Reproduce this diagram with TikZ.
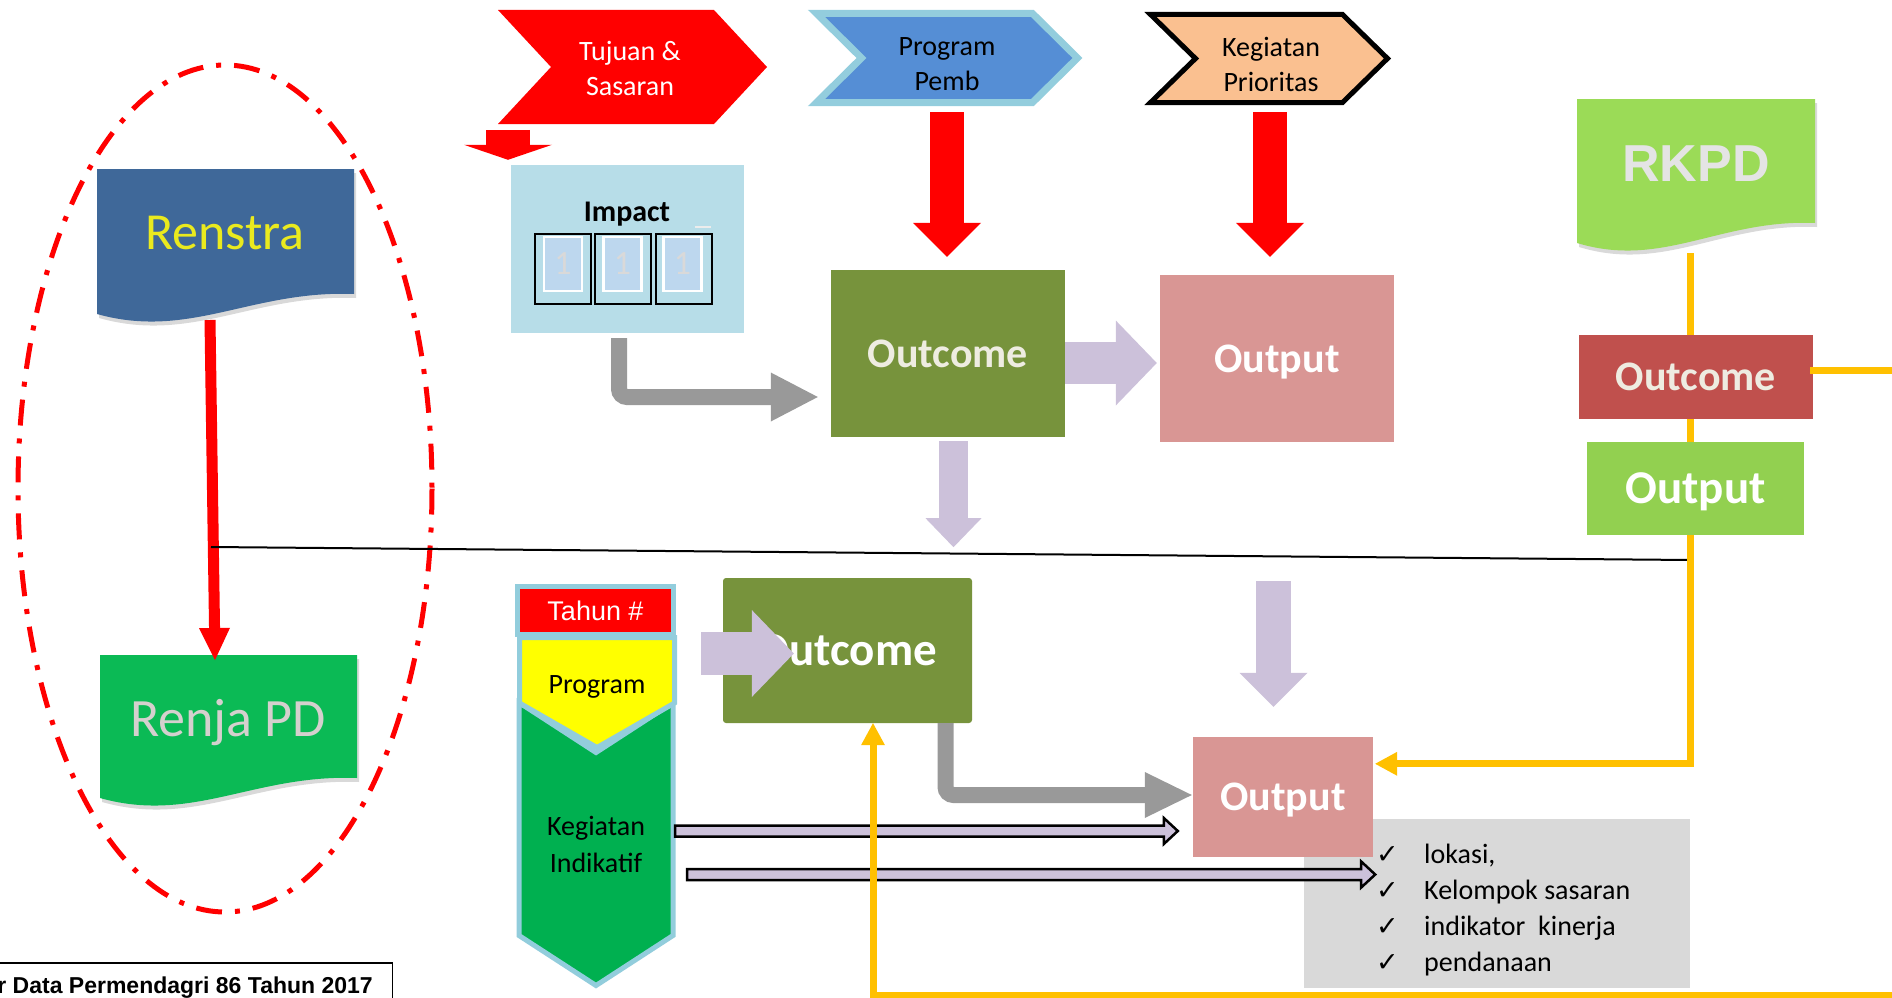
\documentclass[tikz,border=0pt]{standalone}
\usepackage{fontspec}
\setmainfont{Carlito}
\newfontfamily\arialfont{Liberation Sans}
\newfontfamily\symfont{DejaVu Sans}
\usetikzlibrary{arrows.meta}
\usetikzlibrary{calc}
\usetikzlibrary{shadows}

\definecolor{tujred}{HTML}{FF0000}
\definecolor{progblue}{HTML}{558ED5}
\definecolor{progrim}{HTML}{93CDDD}
\definecolor{stackrim}{HTML}{92CDDC}
\definecolor{kegpeach}{HTML}{FAC090}
\definecolor{impactbg}{HTML}{B7DDE8}
\definecolor{slotblue}{HTML}{BDD7EE}
\definecolor{outcgreen}{HTML}{77933C}
\definecolor{outpink}{HTML}{D99694}
\definecolor{outcred}{HTML}{C0504D}
\definecolor{outgreen}{HTML}{92D050}
\definecolor{lilac}{HTML}{CCC1DA}
\definecolor{arrowgrey}{HTML}{999999}
\definecolor{linkyellow}{HTML}{FFC000}
\definecolor{listgrey}{HTML}{D9D9D9}
\definecolor{kegigreen}{HTML}{00B050}
\definecolor{progyellow}{HTML}{FFFF00}
\definecolor{renstrablue}{HTML}{3F6899}
\definecolor{renjagreen}{HTML}{0BBA55}
\definecolor{rkpdgreen}{HTML}{9BDB57}
\definecolor{boxcream}{HTML}{EEECE1}
\definecolor{renstratext}{HTML}{EAEA1E}
\definecolor{renjatext}{HTML}{D5D0CE}
\definecolor{rkpdtext}{HTML}{E4E4E4}

\newcommand\docshape[5]{%
  \fill[#1,docshadow] (#2,#3) -- (#4,#3) -- (#4,#5)
    .. controls ({#4-0.4*(#4-#2)},{#5-4}) and ({#4-0.64*(#4-#2)},{#5+46}) .. (#2,{#5+20}) -- cycle;}
\newcommand\chev[5]{%
  \path[#2] ($#1+(-#3,-#4)$) -- ($#1+(#3-#5,-#4)$) -- ($#1+(#3,0)$)
    -- ($#1+(#3-#5,#4)$) -- ($#1+(-#3,#4)$) -- ($#1+(-#3+#5,0)$) -- cycle;}
\newcommand\vchev[6]{%
  \path[#2] ($#1+(-#3,-#4)$) -- ($#1+(0,-#4+#5)$) -- ($#1+(#3,-#4)$)
    -- ($#1+(#3,#4-#6)$) -- ($#1+(0,#4)$) -- ($#1+(-#3,#4-#6)$) -- cycle;}
\newcommand\hollowarrow[2]{%
  \path[hollow] ($(#1)+(0,-5.5)$) -- ($(#2)+(-14,-5.5)$) -- ($(#2)+(-14,-13)$) -- (#2)
    -- ($(#2)+(-14,13)$) -- ($(#2)+(-14,5.5)$) -- ($(#1)+(0,5.5)$) -- cycle;}
\newcommand\tick{\makebox[48pt][l]{\symfont\fontsize{27}{27}\selectfont ✓}}

\begin{document}
\begin{tikzpicture}[x=1pt,y=-1pt]
  \tikzset{
    every node/.style={inner sep=0pt},
    lbl/.style={text depth=0pt},
    box/.style 2 args={minimum width=#1, minimum height=#2, text depth=0pt,
      font=\bfseries\fontsize{42}{50}\selectfont, text=white},
    chevtext/.style={align=center, font=\fontsize{28}{35}\selectfont},
    slot/.style={draw=black, line width=2pt, minimum width=56, minimum height=70},
    slotin/.style={fill=slotblue, draw=white, line width=2.5pt, minimum width=38,
      minimum height=54, text=listgrey, font=\fontsize{34}{34}\selectfont},
    blockarrow/.style n args={3}{line width=#1, -{Triangle[length=#2,width=#3,line width=0pt]}},
    yline/.style={draw=linkyellow, line width=7pt, -{Triangle[length=22pt,width=24pt,line width=0pt]}},
    hollow/.style={fill=lilac, draw=black, line width=2.5pt},
    docshadow/.style={drop shadow={shadow xshift=2pt,shadow yshift=-4pt,opacity=0.3}},
  }
  \useasboundingbox (0,0) rectangle (1892,998);

  \draw[tujred, line width=5pt, dash pattern=on 26pt off 13pt on 5pt off 13pt]
    (225,488.5) ellipse [x radius=207, y radius=423.5];

  \docshape{renstrablue}{97}{169}{354}{294}
  \node[lbl, font=\fontsize{52}{60}\selectfont, text=renstratext] (renstra) at (225,233) {Renstra};
  \docshape{renjagreen}{100}{655}{357}{778}
  \node[lbl, font=\fontsize{54}{60}\selectfont, text=renjatext] (renja) at (228,718) {Renja PD};
  \docshape{rkpdgreen}{1577}{99}{1815}{223}
  \node[lbl, font=\arialfont\bfseries\fontsize{52}{60}\selectfont, text=rkpdtext] (rkpd) at (1696,164) {RKPD};

  \draw[tujred, blockarrow={11pt}{32pt}{31pt}] ($(renstra)+(-15,87)$) -- ($(renja)+(-13,-58)$);

  \coordinate (splitL) at (211,547);
  \coordinate (splitR) at (1690,560);
  \draw[line width=2pt] (splitL) -- (splitR);

  \chev{(632.5,67)}{fill=tujred}{134.5}{57}{53}
  \node[chevtext, text=white] (tujuan) at (630,68) {Tujuan \&\\Sasaran};
  \chev{(947,58)}{fill=progblue, draw=progrim, line width=7pt}{130.5}{44.5}{45}
  \node[chevtext] (program) at (947,64) {Program\\Pemb};
  \chev{(1269,58.5)}{fill=kegpeach, draw=black, line width=5pt}{118.5}{44}{45}
  \node[chevtext] (kegiatan) at (1271,64) {Kegiatan\\Prioritas};

  \node[fill=impactbg, minimum width=233, minimum height=168] (impact) at (627.5,249) {};
  \node[lbl, font=\bfseries\fontsize{30}{36}\selectfont] (impacttitle) at (627,212) {Impact};
  \draw[white!85!gray, line width=2pt] (695,227) -- (711,227);
  \node[slot] (slot1) at (563,269) {};
  \node[slot] (slot2) at (623,269) {};
  \node[slot] (slot3) at (683.5,269) {};
  \node[slotin] (num1) at (563,264) {1};
  \node[slotin] (num2) at (622.5,264) {1};
  \node[slotin] (num3) at (682.5,264) {1};

  \draw[tujred, blockarrow={44pt}{15pt}{88pt}] ($(impact.north)+(-119.5,-35)$) -- ($(impact.north)+(-119.5,-5)$);

  \node[box={234}{167}, fill=outcgreen, text=boxcream] (outcA) at (948,353.5) {Outcome};
  \node[box={234}{167}, fill=outpink] (outA) at (1277,358.5) {Output};

  \draw[tujred, blockarrow={34pt}{34pt}{68pt}] ($(program)+(0,48)$) -- ($(outcA.north)+(-1,-13)$);
  \draw[tujred, blockarrow={34pt}{34pt}{68pt}] ($(kegiatan)+(-1,48)$) -- ($(outA.north)+(-7,-18)$);

  \draw[arrowgrey, rounded corners=8pt, blockarrow={16pt}{47pt}{49pt}]
    ($(impact.south)+(-8.5,5)$) |- ($(outcA.west)+(-13,43.5)$);
  \draw[lilac, blockarrow={42pt}{41pt}{85pt}] ($(outcA.east)+(0,9.5)$) -- ($(outA.west)+(-3,4.5)$);
  \coordinate (dropA) at ($(outcA.south)+(5.5,4)$);
  \coordinate (dropAend) at ($(outcA.south)+(5.5,110)$);
  \draw[lilac, blockarrow={29pt}{29pt}{56pt}] (dropA) -- (dropAend);

  \vchev{(596,844)}{fill=kegigreen, draw=stackrim, line width=5pt}{77}{141.5}{50}{50}
  \node[chevtext, font=\fontsize{28}{37}\selectfont] (kegind) at (596,844) {Kegiatan\\Indikatif};
  \vchev{(597,692.5)}{fill=progyellow, draw=stackrim, line width=5pt}{77.5}{55}{0}{44.5}
  \node[lbl, font=\fontsize{28}{34}\selectfont] (progY) at (597,685) {Program};
  \node[lbl, fill=tujred, draw=stackrim, line width=5pt, minimum width=156, minimum height=48,
    text=white, font=\arialfont\fontsize{27}{30}\selectfont] (tahun) at (595.5,610.5) {Tahun \#};

  \node[box={249}{145}, fill=outcgreen, rounded corners=3pt,
    font=\bfseries\fontsize{47}{52}\selectfont] (outcB) at (847.5,650.5) {Outcome};
  \coordinate (feedIn) at (701,653.5);
  \draw[lilac, blockarrow={43pt}{42pt}{87pt}] (feedIn) -- ($(outcB.west)+(71,3)$);

  \node[fill=listgrey, minimum width=386, minimum height=169] (listbox) at (1497,903.5) {};
  \node[box={180}{120}, fill=outpink] (outB) at (1283,797) {Output};
  \node[anchor=west, align=left, font=\fontsize{28}{36}\selectfont] (checks) at (1376,910)
    {\tick lokasi,\\ \tick Kelompok sasaran\\ \tick indikator\ \ kinerja\\ \tick pendanaan};

  \draw[arrowgrey, rounded corners=8pt, blockarrow={16pt}{47pt}{46pt}]
    ($(outcB.south)+(98,0)$) |- ($(outB.west)+(-1,-2)$);
  \coordinate (dropB) at (1273.5,581);
  \draw[lilac, blockarrow={35pt}{34pt}{68pt}] (dropB) -- ($(outB.north)+(-9.5,-30)$);

  \coordinate (hollow1s) at ($(kegind)+(79,-13)$);
  \coordinate (hollow1e) at ($(outB.west)+(-15,34)$);
  \hollowarrow{hollow1s}{hollow1e}
  \coordinate (hollow2s) at ($(kegind)+(91,30.5)$);
  \coordinate (hollow2e) at ($(outB.east)+(2,77.5)$);
  \hollowarrow{hollow2s}{hollow2e}

  \draw[yline] ($(rkpd)+(-6,89)$) |- ($(outB.north east)+(2,27)$);
  \node[box={234}{84}, fill=outcred, text=boxcream] (outR) at (1696,377) {Outcome};
  \node[box={217}{93}, fill=outgreen, font=\bfseries\fontsize{47}{52}\selectfont] (outG) at (1695.5,488.5) {Output};
  \coordinate (loopC) at (1915,995.5);
  \draw[yline] ($(outR.east)+(-3,-7)$) -| (loopC) -| ($(outcB.south)+(25.5,0)$);

  \node[draw=black, line width=1.5pt, minimum width=400, minimum height=45, anchor=north east] (capbox) at (393,962) {};
  \node[anchor=base east, font=\arialfont\bfseries\fontsize{23}{26}\selectfont] (caption) at (373,993)
    {r Data Permendagri 86 Tahun 2017};
\end{tikzpicture}
\end{document}
